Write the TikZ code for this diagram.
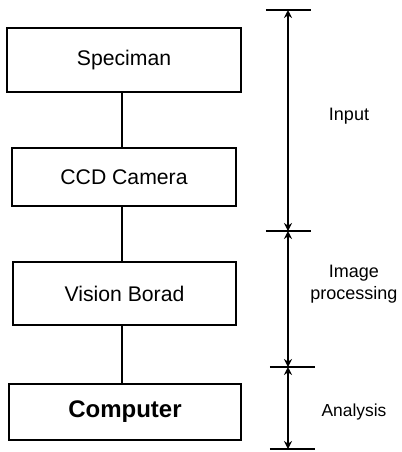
\documentclass[tikz,border=0pt]{standalone}
\usepackage{fontspec}
\setmainfont{Liberation Sans}
\usetikzlibrary{arrows.meta}
\tikzstyle{diagram} = [x = .5pt, y = -.5pt]
\tikzstyle{blockStyle} = [draw, thick, line width=.8pt, inner sep=0pt, font=\fontsize{10.6}{12}\selectfont]
\tikzstyle{blockLine} = [line width=.8pt]
\tikzstyle{tickLine} = [line width=.9pt]
\tikzstyle{rangeLine} = [line width=1pt, {Stealth[length=4pt,width=4pt]}-{Stealth[length=4pt,width=4pt]}]
\tikzstyle{rangeText} = [font=\fontsize{9}{11}\selectfont, align=center, inner sep=0pt]
\newcommand{\rangeTick}[3]{\coordinate (#1) at (288,#2); \draw [tickLine] (#1) ++(#3,0) -- ++(45,0);}

\begin{document}
\begin{tikzpicture}[diagram]
  \useasboundingbox (0,0) rectangle (402,452);
  % blocks
  \node [blockStyle, minimum width=117pt, minimum height=32pt] (speciman) at (124,60) {Speciman};
  \node [blockStyle, minimum width=112pt, minimum height=29pt] (camera) at (124,177) {CCD Camera};
  \node [blockStyle, minimum width=111.5pt, minimum height=31.5pt] (board) at (124.5,293.5) {Vision Borad};
  \node [blockStyle, minimum width=116pt, minimum height=28pt, font=\fontsize{12}{14}\selectfont\bfseries] (computer) at (125,412) {Computer};
  \draw [blockLine] (122,0 |- speciman.south) -- (122,0 |- camera.north);
  \draw [blockLine] (122,0 |- camera.south) -- (122,0 |- board.north);
  \draw [blockLine] (122,0 |- board.south) -- (122,0 |- computer.north);
  % stage scale
  \rangeTick{top}{10}{-22}
  \rangeTick{inputEnd}{231}{-22}
  \rangeTick{imageEnd}{367}{-18}
  \rangeTick{bottom}{449}{-18}
  \draw [rangeLine] (top) -- (inputEnd);
  \draw [rangeLine] (inputEnd) -- (imageEnd);
  \draw [rangeLine] (imageEnd) -- (bottom);
  \node [rangeText] (input) at (349,116) {Input};
  \node [rangeText] (image) at (354,284) {Image\\processing};
  \node [rangeText, font=\fontsize{8.7}{10}\selectfont] (analysis) at (354,412) {Analysis};
\end{tikzpicture}
\end{document}
